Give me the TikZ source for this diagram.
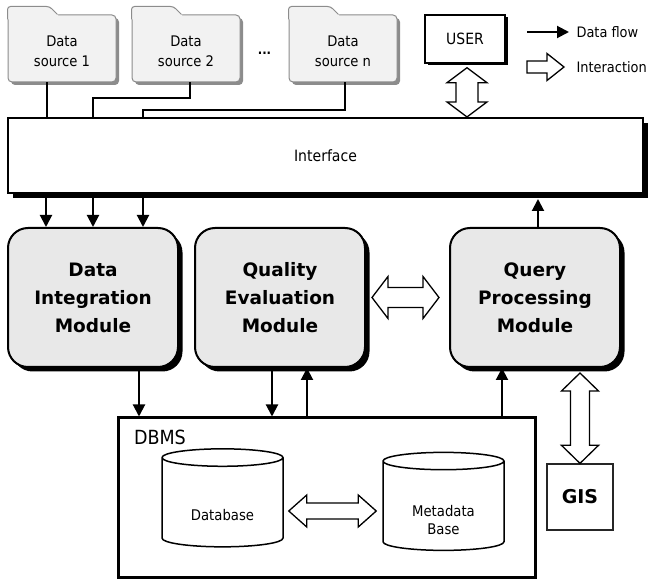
\documentclass[tikz,border=0pt]{standalone}
\usepackage{fontspec}
\setmainfont{DejaVu Sans Condensed}
\newfontfamily\widefont{DejaVu Sans}
\usetikzlibrary{arrows.meta,positioning,calc,shapes.geometric,shadows}

\begin{document}
\begin{tikzpicture}[
	x=1pt, y=-1pt,
	>={Triangle[length=12pt,width=12pt]},
	node distance=15pt,
	flow/.style={->, line width=2pt},
	link/.style={line width=2pt},
	folder/.style={
		draw=black!45,
		fill=black!5,
		line width=1pt,
		rounded corners=4pt,
		minimum width=108pt,
		minimum height=67pt,
		text height=14.3pt,
		text depth=0pt,
		font=\fontsize{14.6}{20}\selectfont,
		drop shadow={shadow xshift=3pt, shadow yshift=-3pt, fill=black!45, opacity=1}
	},
	tabline/.style={draw=black!45, line width=1pt, rounded corners=3pt},
	plainbox/.style={draw, fill=white, line width=1.5pt, align=center},
	module/.style={
		draw,
		line width=2pt,
		fill=black!9,
		rounded corners=20pt,
		minimum width=170pt,
		minimum height=139pt,
		align=center,
		font=\widefont\fontsize{18.5}{28}\selectfont\bfseries,
		drop shadow={shadow xshift=4.5pt, shadow yshift=-4.5pt, fill=black, opacity=1}
	},
	cyl/.style={
		cylinder,
		shape border rotate=90,
		aspect=0.25,
		draw,
		line width=1.5pt,
		minimum width=121pt,
		minimum height=98pt,
		text depth=0pt,
		font=\fontsize{14.7}{18}\selectfont
	},
	openarrow/.style={draw, fill=white, line width=1.3pt, line join=miter},
	legend/.style={anchor=west, font=\fontsize{14.4}{16}\selectfont}
	]
	\useasboundingbox (0,0) rectangle (649,580);
	
	% data sources
	\node[folder] (ds1) at (62,48.5) {\begin{tabular}{@{}c@{}}Data\\source 1\end{tabular}};
	\node[folder, right=15pt of ds1] (ds2) {\begin{tabular}{@{}c@{}}Data\\source 2\end{tabular}};
	\node[folder, right=48pt of ds2] (ds3) {\begin{tabular}{@{}c@{}}Data\\source n\end{tabular}};
	\node[font=\fontsize{13}{15}\selectfont\bfseries, yshift=-5pt] (dots) at ($(ds2.east)!0.5!(ds3.west)$) {...};
	
	\foreach \f in {ds1,ds2,ds3}{
		\fill[black!5] ([xshift=0.5pt,yshift=-5pt]\f.north west) -- ++(0,-13) -- ++(42,0) -- ++(8,8) -- ++(0,2) -- cycle;
		\draw[tabline] ([yshift=-5pt]\f.north west) -- ++(0,-13) -- ++(42,0) -- ++(8,8);
	}
	
	\node[plainbox, minimum width=80pt, minimum height=48pt, font=\fontsize{15.5}{17}\selectfont,
		drop shadow={shadow xshift=2.5pt, shadow yshift=-2.5pt, fill=black, opacity=1}] (user) at (465,39) {USER};
	
	% legend
	\node[legend] (lflow) at (573,32) {Data flow};
	\node[legend] (linter) at (573,67) {Interaction};
	\draw[flow] ([xshift=-46pt]lflow.west) -- ([xshift=-4pt]lflow.west);
	\coordinate (la1) at ([xshift=-46pt]linter.west);
	\coordinate (la2) at ([xshift=-9pt]linter.west);
	\draw[openarrow] ($(la1)+(0,-6)$) -- ($(la2)+(-17,-6)$) -- ++(0,-7.5) -- (la2) -- ++(-17,13.5) -- ++(0,-7.5) -- ($(la1)+(0,6)$) -- cycle;
	
	% interface
	\node[plainbox, line width=2pt, minimum width=635pt, minimum height=75pt, font=\fontsize{15.6}{17}\selectfont,
		drop shadow={shadow xshift=5pt, shadow yshift=-5pt, fill=black, opacity=1}] (iface) at (325.5,155.5) {Interface};
	
	% modules
	\node[module] (dim) at (93,297.5) {Data\\Integration\\Module};
	\node[module, right=15pt of dim] (qem) {Quality\\Evaluation\\Module};
	\node[module, right=83pt of qem] (qpm) {Query\\Processing\\Module};
	
	% DBMS and GIS
	\node[draw, line width=3pt, minimum width=417pt, minimum height=159pt] (dbms) at (326.5,497.5) {};
	\node[anchor=base west, font=\fontsize{19.5}{21}\selectfont] (dbmslabel) at ([xshift=14pt,yshift=-28pt]dbms.north west) {DBMS};
	\node[cyl, text height=33.4pt] (db) at (222.5,504) {\begin{tabular}{@{}c@{}}Database\end{tabular}};
	\node[cyl, text height=36.4pt] (meta) at (443.5,507.5) {\begin{tabular}{@{}c@{}}Metadata\\Base\end{tabular}};
	\node[draw=black!85, line width=1.3pt, minimum width=66pt, minimum height=66pt,
		font=\widefont\fontsize{19}{21}\selectfont\bfseries] (gis) at (580,497) {GIS};
	
	% data source lines
	\draw[link] ([xshift=39pt]ds1.south west) coordinate (s1) -- (s1 |- iface.north);
	\draw[link] ([xshift=58pt]ds2.south west) -- ++(0,16) -| ([xshift=86pt]iface.north west);
	\draw[link] ([xshift=56pt]ds3.south west) -- ++(0,28) -| ([xshift=136pt]iface.north west);
	
	% data flow
	\draw[flow] ([xshift=39pt]iface.south west) coordinate (i1) -- (i1 |- dim.north);
	\draw[flow] ([xshift=86pt]iface.south west) coordinate (i2) -- (i2 |- dim.north);
	\draw[flow] ([xshift=136pt]iface.south west) coordinate (i3) -- (i3 |- dim.north);
	\draw[flow, shorten >=5pt] ([xshift=3pt]qpm.north) coordinate (q1) -- (q1 |- iface.south);
	
	\draw[flow] ([xshift=132pt]dim.south west) coordinate (d1) -- (d1 |- dbms.north);
	\draw[flow] ([xshift=78pt]qem.south west) coordinate (e1) -- (e1 |- dbms.north);
	\draw[flow] ([xshift=113pt]qem.south west |- dbms.north) coordinate (e2) -- (e2 |- qem.south);
	\draw[flow] ([xshift=53pt]qpm.south west |- dbms.north) coordinate (p1) -- (p1 |- qpm.south);
	
	% interaction
	\coordinate (ua1) at ([xshift=2pt,yshift=-4pt]user.south);
	\coordinate (ua2) at (ua1 |- iface.north);
	\draw[openarrow] (ua1) -- ++(-20,15) -- ++(9,0) -- ($(ua2)+(-11,-15)$) -- ++(-9,0) -- (ua2) -- ++(20,-15) -- ++(-9,0) -- ($(ua1)+(11,15)$) -- ++(9,0) -- cycle;
	
	\coordinate (qa1) at ([xshift=6pt]qem.east);
	\coordinate (qa2) at ([xshift=-10pt]qpm.west);
	\draw[openarrow] (qa1) -- ++(16,-21) -- ++(0,11) -- ($(qa2)+(-16,-10)$) -- ++(0,-11) -- (qa2) -- ++(-16,21) -- ++(0,-11) -- ($(qa1)+(16,10)$) -- ++(0,11) -- cycle;
	
	\coordinate (ga1) at ($(gis.north |- qpm.south)+(0,5)$);
	\coordinate (ga2) at (gis.north);
	\draw[openarrow] (ga1) -- ++(-18.5,18) -- ++(9,0) -- ($(ga2)+(-9.5,-18)$) -- ++(-9,0) -- (ga2) -- ++(18.5,-18) -- ++(-9,0) -- ($(ga1)+(9.5,18)$) -- ++(9,0) -- cycle;
	
	\coordinate (da1) at ($(db.east)+(5,7)$);
	\coordinate (da2) at ($(da1 -| meta.west)+(-6,0)$);
	\draw[openarrow] (da1) -- ++(18,-16) -- ++(0,8) -- ($(da2)+(-18,-8)$) -- ++(0,-8) -- (da2) -- ++(-18,16) -- ++(0,-8) -- ($(da1)+(18,8)$) -- ++(0,8) -- cycle;
	
\end{tikzpicture}
\end{document}
